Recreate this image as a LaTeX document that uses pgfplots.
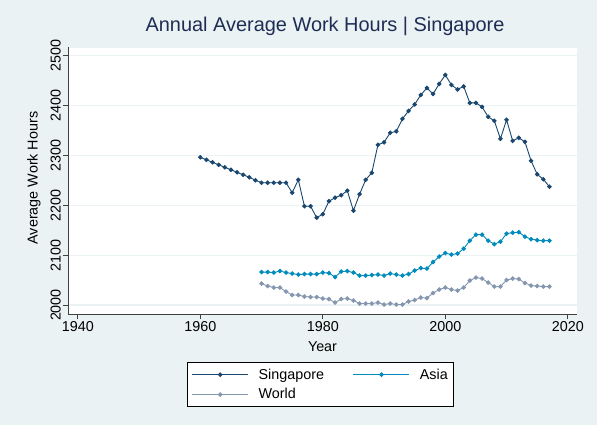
\documentclass[border=0pt]{standalone}
\usepackage{fontspec}
\setmainfont{Liberation Sans}
\usepackage{pgfplots}
\usepackage{pgfplotstable}
\pgfplotsset{compat=1.18}
\definecolor{bgcol}{RGB}{234,242,243}
\definecolor{gridcol}{RGB}{234,242,243}
\definecolor{sgcol}{RGB}{26,71,111}
\definecolor{asiacol}{RGB}{0,139,188}
\definecolor{worldcol}{RGB}{132,151,175}
\definecolor{titlecol}{RGB}{30,45,85}

% Singapore, 1960-2017
\pgfplotstableread{
year hours
1960 2296
1961 2291
1962 2286
1963 2281
1964 2276
1965 2271
1966 2266
1967 2261
1968 2256
1969 2250
1970 2245
1971 2245
1972 2245
1973 2245
1974 2245
1975 2225
1976 2251
1977 2198
1978 2198
1979 2175
1980 2182
1981 2208
1982 2215
1983 2220
1984 2229
1985 2189
1986 2222
1987 2251
1988 2265
1989 2321
1990 2326
1991 2345
1992 2348
1993 2373
1994 2389
1995 2402
1996 2421
1997 2435
1998 2423
1999 2443
2000 2461
2001 2441
2002 2432
2003 2438
2004 2405
2005 2405
2006 2397
2007 2377
2008 2369
2009 2333
2010 2371
2011 2329
2012 2335
2013 2327
2014 2289
2015 2262
2016 2252
2017 2237
}\sgdata

% Asia and World, 1970-2017
\pgfplotstableread{
year asia world
1970 2066 2043
1971 2066 2038
1972 2065 2035
1973 2068 2035
1974 2065 2027
1975 2063 2020
1976 2061 2020
1977 2062 2017
1978 2062 2016
1979 2062 2016
1980 2065 2013
1981 2064 2012
1982 2056 2005
1983 2067 2012
1984 2068 2013
1985 2065 2009
1986 2059 2003
1987 2059 2003
1988 2060 2003
1989 2061 2005
1990 2059 2001
1991 2063 2003
1992 2061 2001
1993 2059 2001
1994 2062 2007
1995 2069 2010
1996 2074 2015
1997 2073 2014
1998 2086 2024
1999 2097 2031
2000 2104 2035
2001 2101 2031
2002 2103 2029
2003 2113 2035
2004 2129 2049
2005 2141 2055
2006 2141 2053
2007 2129 2045
2008 2122 2037
2009 2127 2037
2010 2143 2050
2011 2145 2053
2012 2146 2052
2013 2137 2044
2014 2132 2039
2015 2130 2038
2016 2129 2037
2017 2129 2037
}\regdata

\begin{document}
\begin{tikzpicture}[x=1bp,y=1bp]
\fill[bgcol] (-68,-111) rectangle (529,314);
\useasboundingbox (-68,-111) rectangle (529,314);
\begin{axis}[
    at={(0,0)}, anchor=south west,
    width=509bp, height=267bp, scale only axis,
    xmin=1938.4, xmax=2021.5,
    ymin=1982, ymax=2517,
    xtick={1940,1960,...,2020},
    ytick={2000,2100,...,2500},
    /pgf/number format/1000 sep={},
    /pgf/number format/assume math mode=true,
    axis lines*=left,
    axis line style={-, draw=black!75, line width=0.8bp},
    axis background/.style={fill=white, draw=gridcol},
    tick align=outside,
    major tick length=5bp,
    tick style={black!75, line width=0.8bp},
    ymajorgrids,
    major grid style={draw=gridcol, line width=1.2bp},
    tick label style={font=\fontsize{14.4}{17}\selectfont},
    yticklabel style={rotate=90, anchor=south, inner sep=2bp},
    xticklabel style={anchor=north, inner sep=2bp},
    label style={font=\fontsize{14.4}{17}\selectfont},
    xlabel={Year},
    xlabel style={at={(axis description cs:0.5,-0.1225)}, anchor=center},
    ylabel={Average Work Hours},
    ylabel style={at={(axis description cs:-0.0668,0.509)}, anchor=center},
    title={Annual Average Work Hours | Singapore},
    title style={at={(axis description cs:0.505,1.056)}, anchor=center,
        font=\fontsize{20}{24}\selectfont, text=titlecol},
    legend image code/.code={\draw[mark repeat=2,mark phase=2]
        plot coordinates {(0bp,0bp)(28bp,0bp)(56bp,0bp)};},
    legend columns=2,
    legend cell align=left,
    legend style={at={(0.2344,-0.1809)}, anchor=north west,
        draw=black, fill=white, line width=0.8bp,
        font=\fontsize{14.4}{17}\selectfont,
        inner xsep=4bp, inner ysep=4bp, row sep=4bp,
        nodes={inner sep=2bp, anchor=west},
        /tikz/column 1/.append style={column sep=8bp},
        /tikz/column 2/.append style={column sep=27bp},
        /tikz/column 3/.append style={column sep=8bp}},
    every axis plot/.append style={line width=0.9bp, mark=*, mark size=1.8bp},
]
\addplot[sgcol, mark options={fill=sgcol, draw=sgcol}] table[x=year, y=hours] {\sgdata};
\addplot[asiacol, mark options={fill=asiacol, draw=asiacol}] table[x=year, y=asia] {\regdata};
\addplot[worldcol, mark options={fill=worldcol, draw=worldcol}] table[x=year, y=world] {\regdata};
\legend{Singapore, Asia, World}
\end{axis}
\end{tikzpicture}
\end{document}
